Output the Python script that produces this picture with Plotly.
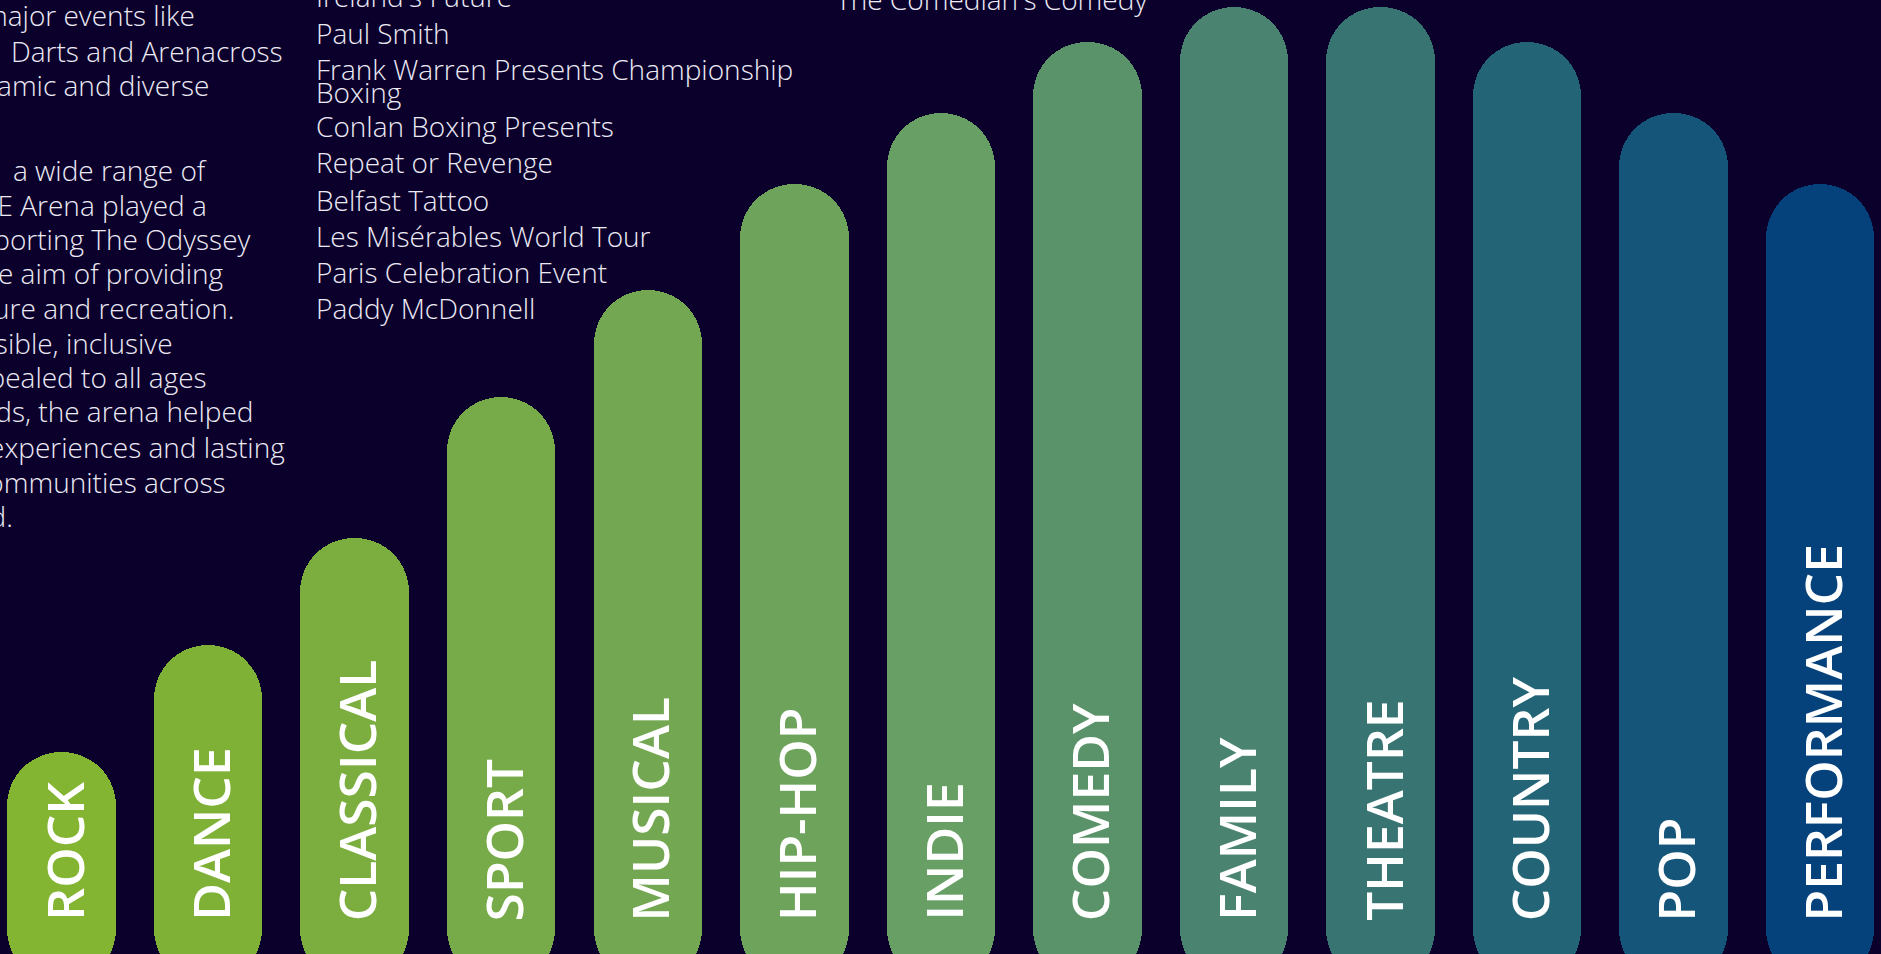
import plotly.graph_objects as go

# ---------------- data ----------------
genres = ["ROCK", "DANCE", "CLASSICAL", "SPORT", "MUSICAL", "HIP-HOP", "INDIE",
          "COMEDY", "FAMILY", "THEATRE", "COUNTRY", "POP", "PERFORMANCE"]
heights = [202, 309, 416, 557, 664, 770, 841, 912, 947, 947, 912, 841, 770]

bar_colors = ["#83b532", "#7fb137", "#7bae3f", "#77aa48", "#73a752", "#6ea35c",
              "#689f64", "#5a9369", "#4a8470", "#377472", "#236476", "#155579",
              "#05427b"]

paragraph_lines = [
    "major events like", "Darts and Arenacross", "dynamic and diverse", "",
    "a wide range of", "SSE Arena played a", "supporting The Odyssey",
    "the aim of providing", "leisure and recreation.", "accessible, inclusive",
    "appealed to all ages", "backgrounds, the arena helped",
    "experiences and lasting", "communities across", "Northern Ireland.",
]
paragraph_right = [197, 285, 211, 0, 209, 209, 253, 226, 236, 175, 209, 256, 287, 228, 15]
paragraph_base = [26, 62, 96, 0, 181, 216, 250, 284, 319, 354, 388, 422, 458, 493, 527]

event_lines = ["Ireland's Future", "Paul Smith", "Frank Warren Presents Championship",
               "Boxing", "Conlan Boxing Presents", "Repeat or Revenge", "Belfast Tattoo",
               "Les Misérables World Tour", "Paris Celebration Event", "Paddy McDonnell"]
event_base = [7, 44, 80, 103, 137, 173, 211, 247, 283, 319]

comedy_lines = ["The Comedian's Comedy"]
comedy_base = [10]

W, H = 1881, 954
BG = "#0b002c"
TXT = "#ecebf4"
BODY_FONT = "Open Sans"
FS = 28

x = list(range(len(genres)))
BOTTOM = -29  # pills continue a little below the picture
fig = go.Figure()

fig.add_trace(go.Bar(
    x=x, y=[h - BOTTOM for h in heights], base=[BOTTOM] * len(x), width=0.74,
    marker=dict(color=bar_colors, cornerradius="50%", line=dict(width=0)),
    hovertext=genres, showlegend=False,
))

annotations = []
# rotated bar labels
for i, g in enumerate(genres):
    annotations.append(dict(
        x=i + 0.012, y=954 - 923, xref="x", yref="y", text=g, textangle=-90,
        showarrow=False, xanchor="center", yanchor="bottom",
        font=dict(family="Open Sans", size=51.5, color="white", weight=600),
    ))

def add_lines(lines, bases, xs, anchor):
    for t, b, xp in zip(lines, bases, xs):
        if not t:
            continue
        annotations.append(dict(
            x=xp / W, y=(H - b + 0.39 * FS) / H, xref="paper", yref="paper", text=t,
            showarrow=False, xanchor=anchor, yanchor="middle",
            font=dict(family=BODY_FONT, size=FS, color=TXT, weight=300),
        ))

add_lines(paragraph_lines, paragraph_base, paragraph_right, "right")
add_lines(event_lines, event_base, [314] * len(event_lines), "left")
add_lines(comedy_lines, comedy_base, [834], "left")

fig.update_layout(
    width=W, height=H, margin=dict(l=0, r=0, t=0, b=0),
    paper_bgcolor=BG, plot_bgcolor=BG,
    barmode="overlay", bargap=0,
    xaxis=dict(range=[-0.4196, 12.415], visible=False, fixedrange=True),
    yaxis=dict(range=[0, 954], visible=False, fixedrange=True),
    annotations=annotations,
    showlegend=False,
)

fig.write_html("out.html", config={"displayModeBar": False})
